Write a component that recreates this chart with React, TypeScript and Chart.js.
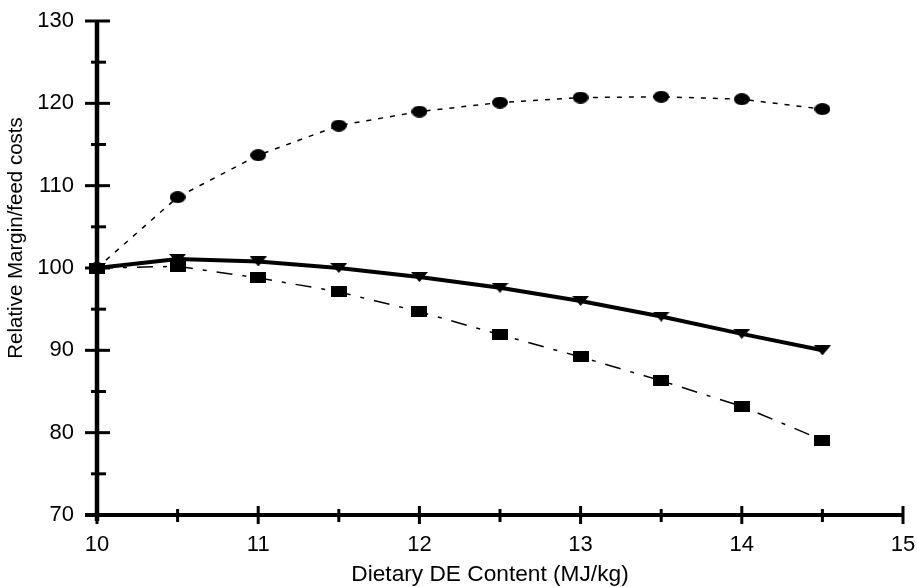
import React, { useEffect, useRef } from "react";
import { Chart, registerables } from "chart.js";

Chart.register(...registerables);

// ---- data ----
const dePoints = [10, 10.5, 11, 11.5, 12, 12.5, 13, 13.5, 14, 14.5];
const circleSeries = [100, 108.6, 113.7, 117.3, 119.0, 120.1, 120.7, 120.8, 120.5, 119.3];
const triangleSeries = [100, 101.1, 100.8, 100.0, 98.9, 97.6, 96.0, 94.1, 92.0, 90.0];
const squareSeries = [100, 100.2, 98.8, 97.1, 94.7, 91.9, 89.2, 86.3, 83.2, 79.1];

const xMajorTicks = [10, 11, 12, 13, 14, 15];
const xMinorTicks = [10.5, 11.5, 12.5, 13.5, 14.5];
const yMajorTicks = [70, 80, 90, 100, 110, 120, 130];
const yMinorTicks = [75, 85, 95, 105, 115, 125];

const xTitle = "Dietary DE Content (MJ/kg)";
const yTitle = "Relative Margin/feed costs";

const FONT = '"Liberation Sans", Arial, Helvetica, sans-serif';

function makeMarker(kind: string, w: number, h: number): HTMLCanvasElement {
  const c = document.createElement("canvas");
  c.width = w;
  c.height = h;
  const g = c.getContext("2d")!;
  g.fillStyle = "#000";
  g.beginPath();
  if (kind === "ellipse") {
    g.ellipse(w / 2, h / 2, w / 2, h / 2, 0, 0, Math.PI * 2);
  } else if (kind === "rect") {
    g.rect(0, 0, w, h);
  } else {
    g.moveTo(0, 0);
    g.lineTo(w, 0);
    g.lineTo(w / 2, h);
    g.closePath();
  }
  g.fill();
  return c;
}

const paperAxes = {
  id: "paperAxes",
  beforeDatasetsDraw(chart: any) {
    const { ctx, scales } = chart;
    const xs = scales.x;
    const ys = scales.y;
    const x0 = xs.getPixelForValue(xMajorTicks[0]);
    const y0 = ys.getPixelForValue(yMajorTicks[0]);
    const yTop = ys.getPixelForValue(yMajorTicks[yMajorTicks.length - 1]);
    const xEnd = xs.getPixelForValue(xMajorTicks[xMajorTicks.length - 1]);
    ctx.save();
    ctx.strokeStyle = "#000";
    ctx.lineCap = "butt";
    ctx.lineWidth = 4.5;
    ctx.beginPath();
    ctx.moveTo(x0, yTop);
    ctx.lineTo(x0, y0 + 6);
    ctx.stroke();
    ctx.lineWidth = 4;
    ctx.beginPath();
    ctx.moveTo(x0 - 12, y0);
    ctx.lineTo(xEnd, y0);
    ctx.stroke();
    ctx.lineWidth = 3;
    for (const v of yMajorTicks) {
      const p = ys.getPixelForValue(v);
      ctx.beginPath();
      ctx.moveTo(x0 - 12, p);
      ctx.lineTo(x0 + (v === yMajorTicks[0] ? 0 : 13), p);
      ctx.stroke();
    }
    for (const v of yMinorTicks) {
      const p = ys.getPixelForValue(v);
      ctx.beginPath();
      ctx.moveTo(x0 - 6, p);
      ctx.lineTo(x0 + 9, p);
      ctx.stroke();
    }
    for (const v of xMajorTicks) {
      const p = xs.getPixelForValue(v);
      ctx.beginPath();
      ctx.moveTo(p, y0 - (v === xMajorTicks[0] ? 0 : 9));
      ctx.lineTo(p, y0 + 9);
      ctx.stroke();
    }
    for (const v of xMinorTicks) {
      const p = xs.getPixelForValue(v);
      ctx.beginPath();
      ctx.moveTo(p, y0 - 6);
      ctx.lineTo(p, y0 + 7);
      ctx.stroke();
    }
    ctx.restore();
  },
  afterDraw(chart: any) {
    const { ctx } = chart;
    ctx.save();
    ctx.fillStyle = "#000";
    ctx.font = `22.7px ${FONT}`;
    ctx.textAlign = "center";
    ctx.textBaseline = "alphabetic";
    ctx.fillText(xTitle, 490, 581);
    ctx.translate(16, 238);
    ctx.rotate(-Math.PI / 2);
    ctx.font = `20.5px ${FONT}`;
    ctx.textBaseline = "middle";
    ctx.fillText(yTitle, 0, 0);
    ctx.restore();
  },
};

export default function App() {
  const canvasRef = useRef<HTMLCanvasElement | null>(null);

  useEffect(() => {
    if (!canvasRef.current) return;
    const circleMarker = makeMarker("ellipse", 16, 12);
    const squareMarker = makeMarker("rect", 16, 11);
    const triMarker = makeMarker("tri", 17, 10);
    const toXY = (vals: number[]) => dePoints.map((x, i) => ({ x, y: vals[i] }));

    const chart = new Chart(canvasRef.current, {
      type: "line",
      data: {
        datasets: [
          {
            label: "circles",
            data: toXY(circleSeries),
            borderColor: "#000",
            backgroundColor: "#000",
            borderWidth: 1.5,
            borderDash: [5, 7],
            pointStyle: circleMarker as any,
            pointRadius: 8,
            tension: 0,
            clip: false as any,
          },
          {
            label: "squares",
            data: toXY(squareSeries),
            borderColor: "#000",
            backgroundColor: "#000",
            borderWidth: 1.5,
            borderDash: [16, 10, 4, 10],
            pointStyle: squareMarker as any,
            pointRadius: 8,
            tension: 0,
            clip: false as any,
          },
          {
            label: "triangles",
            data: toXY(triangleSeries),
            borderColor: "#000",
            backgroundColor: "#000",
            borderWidth: 4,
            pointStyle: triMarker as any,
            pointRadius: 8,
            tension: 0,
            clip: false as any,
          },
        ],
      },
      options: {
        animation: false,
        responsive: true,
        maintainAspectRatio: false,
        layout: { padding: { left: 0, right: 14, top: 21, bottom: 0 } },
        plugins: {
          legend: { display: false },
          tooltip: { enabled: false },
          title: { display: false },
        },
        scales: {
          x: {
            type: "linear",
            min: 10,
            max: 15,
            grid: { display: false, drawTicks: false },
            border: { display: false },
            ticks: {
              stepSize: 1,
              padding: 17,
              color: "#000",
              font: { family: FONT, size: 22 },
              maxRotation: 0,
            },
            afterFit: (s: any) => {
              s.height = 72;
              s.paddingLeft = 0;
              s.paddingRight = 0;
            },
          },
          y: {
            type: "linear",
            min: 70,
            max: 130,
            grid: { display: false, drawTicks: false },
            border: { display: false },
            ticks: {
              stepSize: 10,
              padding: 23,
              color: "#000",
              font: { family: FONT, size: 22 },
            },
            afterFit: (s: any) => {
              s.width = 97;
              s.paddingTop = 0;
              s.paddingBottom = 0;
            },
          },
        },
      },
      plugins: [paperAxes],
    });
    return () => chart.destroy();
  }, []);

  return (
    <div style={{ position: "fixed", left: 0, top: 0, width: 917, height: 587, background: "#fff" }}>
      <canvas ref={canvasRef} />
    </div>
  );
}
